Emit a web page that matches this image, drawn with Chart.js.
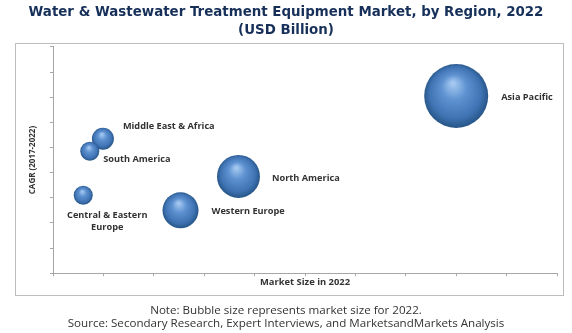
<!DOCTYPE html>
<html>
<head>
<meta charset="utf-8">
<script src="https://cdn.jsdelivr.net/npm/chart.js@4"></script>
<style>
  html, body { margin: 0; padding: 0; background: #fff; }
  #wrap { width: 572px; height: 333px; }
</style>
</head>
<body>
<div id="wrap"><canvas id="bubbleChart" width="572" height="333"></canvas></div>
<script>
// data (axes carry no numbers, units are tick steps)
const regions = ['Asia Pacific', 'North America', 'Western Europe', 'Middle East & Africa', 'South America', 'Central & Eastern Europe'];
const marketSize = [8.0, 3.68, 2.53, 0.99, 0.73, 0.6];
const cagr = [7.05, 3.85, 2.5, 5.35, 4.85, 3.1];
const bubbleRadius = [32, 21.5, 18, 11, 9.5, 9.5];
const xTicks = { min: 0, max: 10, step: 1 };
const yTicks = { min: 0, max: 9, step: 1 };

// label text lines and where they sit relative to each bubble
const labelLines = [['Asia Pacific'], ['North America'], ['Western Europe'], ['Middle East & Africa'], ['South America'], ['Central & Eastern', 'Europe']];
const labelPlace = [
  { dx: 13, dy: 1, align: 'left' },
  { dx: 12, dy: 2, align: 'left' },
  { dx: 13, dy: 1, align: 'left' },
  { dx: 9, dy: -12, align: 'left' },
  { dx: 4, dy: 8, align: 'left' },
  { dx: 24, dy: 20, align: 'center' }
];

const points = regions.map((r, i) => ({ x: marketSize[i], y: cagr[i], r: bubbleRadius[i] }));

function sphere(ctx) {
  const chart = ctx.chart;
  const xs = chart.scales.x, ys = chart.scales.y;
  if (!xs || !ys || !ctx.parsed) return '#4f81bd';
  const cx = xs.getPixelForValue(ctx.parsed.x);
  const cy = ys.getPixelForValue(ctx.parsed.y);
  if (!isFinite(cx) || !isFinite(cy)) return '#4f81bd';
  const r = bubbleRadius[ctx.dataIndex];
  const g = chart.ctx.createRadialGradient(cx - r * 0.1, cy - r * 0.4, r * 0.05, cx, cy, r * 1.05);
  g.addColorStop(0, '#a3c7f0');
  g.addColorStop(0.35, '#5d91d0');
  g.addColorStop(0.75, '#3f73b3');
  g.addColorStop(1, '#22507f');
  return g;
}

const frame = {
  id: 'frame',
  beforeDraw(chart) {
    const c = chart.ctx;
    c.save();
    c.fillStyle = '#fff';
    c.fillRect(0, 0, chart.width, chart.height);
    c.strokeStyle = '#bdbdbd';
    c.lineWidth = 1;
    c.strokeRect(15.5, 43.5, 548, 252);
    c.restore();
  }
};

const bubbleLabels = {
  id: 'bubbleLabels',
  afterDatasetsDraw(chart) {
    const c = chart.ctx;
    const meta = chart.getDatasetMeta(0);
    c.save();
    c.font = 'bold 9.2px "Open Sans"';
    c.fillStyle = '#333';
    c.textBaseline = 'middle';
    meta.data.forEach((el, i) => {
      const p = labelPlace[i];
      const r = el.options.radius;
      c.textAlign = p.align;
      const x = p.align === 'left' ? el.x + r + p.dx : el.x + p.dx;
      labelLines[i].forEach((t, k) => c.fillText(t, x, el.y + p.dy + k * 12));
    });
    c.restore();
  }
};

new Chart(document.getElementById('bubbleChart'), {
  type: 'bubble',
  data: {
    datasets: [{
      label: 'Regions',
      data: points,
      backgroundColor: sphere,
      borderWidth: 0,
      clip: false
    }]
  },
  options: {
    responsive: false,
    animation: false,
    events: [],
    layout: { autoPadding: false, padding: { left: 15, right: 15, top: 0, bottom: 0 } },
    plugins: {
      legend: { display: false },
      tooltip: { enabled: false },
      title: {
        display: true,
        text: ['Water & Wastewater Treatment Equipment Market, by Region, 2022', '(USD Billion)'],
        color: '#17305a',
        font: { family: '"DejaVu Sans"', size: 13.4, weight: 'bold', lineHeight: 1.34 },
        padding: { top: 4, bottom: 7 }
      },
      subtitle: {
        display: true,
        position: 'bottom',
        text: ['Note: Bubble size represents market size for 2022.', 'Source: Secondary Research, Expert Interviews, and MarketsandMarkets Analysis'],
        color: '#333',
        font: { family: '"Open Sans"', size: 11.6, lineHeight: 1.1 },
        padding: { top: 17, bottom: 3 }
      }
    },
    scales: {
      x: {
        type: 'linear',
        min: xTicks.min, max: xTicks.max,
        ticks: { display: false, stepSize: xTicks.step },
        grid: { drawOnChartArea: false, drawTicks: true, tickLength: 3, color: '#a6a6a6' },
        border: { display: true, color: '#a6a6a6' },
        title: {
          display: true, text: 'Market Size in 2022', color: '#333',
          font: { family: '"Open Sans"', size: 9.4, weight: 'bold', lineHeight: 1.2 },
          padding: { top: 0, bottom: 0 }
        }
      },
      y: {
        type: 'linear',
        min: yTicks.min, max: yTicks.max,
        ticks: { display: false, stepSize: yTicks.step },
        grid: { drawOnChartArea: false, drawTicks: true, tickLength: 3, color: '#a6a6a6' },
        border: { display: true, color: '#a6a6a6' },
        title: {
          display: true, text: 'CAGR (2017-2022)', color: '#333',
          font: { family: '"Open Sans"', size: 8, weight: 'bold', lineHeight: 1.2 },
          padding: { top: 13.2, bottom: 12.2 }
        }
      }
    }
  },
  plugins: [frame, bubbleLabels]
});
</script>
</body>
</html>
